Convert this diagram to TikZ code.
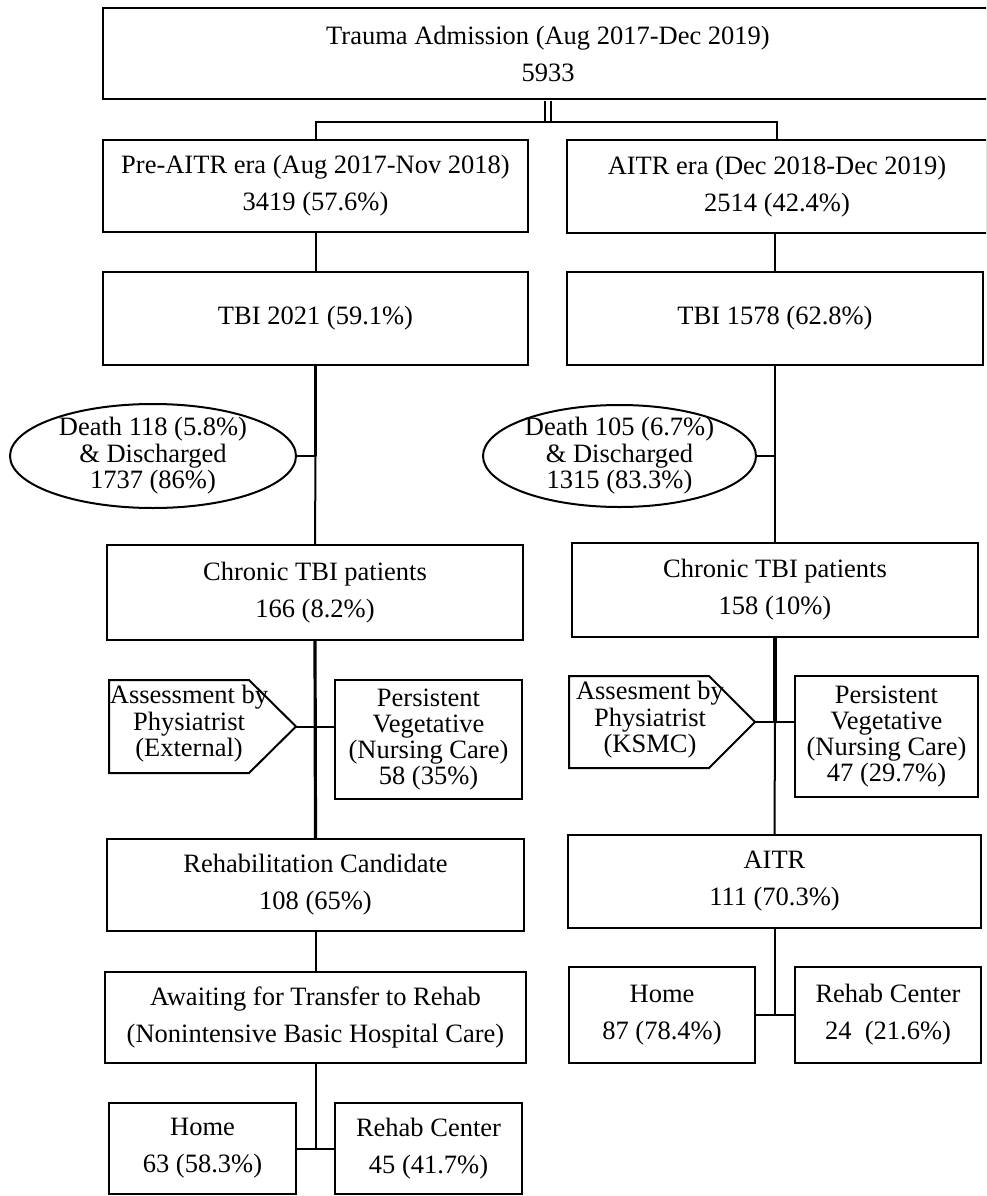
\documentclass[tikz,border=0pt]{standalone}
\usepackage{fontspec}
\setmainfont{Liberation Serif}
\usetikzlibrary{shapes.geometric}

\begin{document}
\begin{tikzpicture}[x=1pt,y=-1pt]
\tikzstyle{boite} = [draw,rectangle,line width=2pt,align=center,inner sep=0pt,font=\fontsize{26.5}{37}\selectfont];
\tikzstyle{serre} = [align=center,inner sep=0pt,font=\fontsize{26.5}{26.5}\selectfont];
\tikzstyle{bulle} = [draw,ellipse,line width=2pt,inner sep=0pt];
\tikzstyle{trait} = [line width=2pt];
\tikzstyle{epais} = [line width=3.2pt];

\useasboundingbox (0,0) rectangle (986,1196);
\clip (0,0) rectangle (986,1196);

\node[boite,minimum width=890pt,minimum height=91pt] (adm) at (548,53.5) {Trauma Admission (Aug 2017-Dec 2019)\\5933};
\node[boite,minimum width=425pt,minimum height=92pt] (pre) at (315.5,186) {Pre-AITR era (Aug 2017-Nov 2018)\\3419 (57.6\%)};
\node[boite,minimum width=420pt,minimum height=93pt] (era) at (777,186.5) {AITR era (Dec 2018-Dec 2019)\\2514 (42.4\%)};

\coordinate (j0) at (548,122);
\draw[double,line width=1.8pt,double distance=3.6pt,shorten <=1pt,shorten >=1pt] (adm.south) -- (j0);
\draw[trait] (pre.north) |- (j0) -| (era.north);

\node[boite,minimum width=425pt,minimum height=93pt] (tbiG) at (315.5,318.5) {TBI 2021 (59.1\%)};
\node[boite,minimum width=416pt,minimum height=93pt] (tbiD) at (775,318.5) {TBI 1578 (62.8\%)};
\draw[trait] (pre) -- (tbiG);
\draw[trait] (era.south -| tbiD.north) -- (tbiD.north);

% deces et sorties
\node[bulle,minimum width=286pt,minimum height=104pt] (mortG) at (153,456) {};
\node[serre] (mortGtxt) at (mortG) {Death 118 (5.8\%)\\\& Discharged\\1737 (86\%)};
\node[bulle,minimum width=273pt,minimum height=102pt] (mortD) at (619.5,456) {};
\node[serre] (mortDtxt) at (mortD) {Death 105 (6.7\%)\\\& Discharged\\1315 (83.3\%)};

\node[boite,minimum width=416pt,minimum height=95pt] (chrG) at (315,592.5) {Chronic TBI patients\\166 (8.2\%)};
\node[boite,minimum width=406pt,minimum height=94pt] (chrD) at (775,590) {Chronic TBI patients\\158 (10\%)};

\coordinate (jG) at (tbiG.south |- mortG.east);
\coordinate (jD) at (tbiD.south |- mortD.east);
\draw[epais] (tbiG.south) -- (jG);
\draw[trait] (jG) -- (chrG.north);
\draw[trait] (mortG.east) -- (jG);
\draw[trait] (tbiD.south) -- (chrD.north);
\draw[trait] (mortD.east) -- (jD);

% evaluation
\draw[trait] (109,680) -- (249,680) -- (296,726.5) -- (249,773) -- (109,773) -- cycle;
\coordinate (pointeG) at (296,726.5);
\node[serre] (asmG) at (189,724) {Assessment by\\Physiatrist\\(External)};
\node[boite,font=\fontsize{26.5}{25.7}\selectfont,minimum width=187pt,minimum height=119pt] (persG) at (428.5,739.5) {Persistent\\Vegetative\\(Nursing Care)\\58 (35\%)};

\draw[trait] (569,676) -- (709,676) -- (755,722) -- (709,768) -- (569,768) -- cycle;
\coordinate (pointeD) at (755,722);
\node[serre] (asmD) at (650,720) {Assesment by\\Physiatrist\\(KSMC)};
\node[boite,font=\fontsize{26.5}{25.7}\selectfont,minimum width=183pt,minimum height=121pt] (persD) at (886.5,736.5) {Persistent\\Vegetative\\(Nursing Care)\\47 (29.7\%)};

\node[boite,minimum width=417pt,minimum height=92pt] (rehG) at (315.5,885) {Rehabilitation Candidate\\108 (65\%)};
\node[boite,minimum width=413pt,minimum height=93pt] (aitr) at (774.5,881.5) {AITR\\111 (70.3\%)};

\coordinate (kD) at (chrD.south |- pointeD);
\draw[epais] (chrG.south) -- (rehG.north);
\draw[trait] (pointeG) -- (pointeG -| persG.west);
\draw[epais] (chrD.south) -- (kD);
\draw[trait] (kD) -- (aitr.north);
\draw[trait] (pointeD) -- (pointeD -| persD.west);

% sorties finales
\node[boite,minimum width=421pt,minimum height=91pt] (attG) at (315.5,1017.5) {Awaiting for Transfer to Rehab\\(Nonintensive Basic Hospital Care)};
\draw[trait] (rehG) -- (attG);
\node[boite,minimum width=187pt,minimum height=91pt] (homeG) at (202.5,1148.5) {Home\\63 (58.3\%)};
\node[boite,minimum width=187pt,minimum height=91pt] (rcG) at (428.5,1148.5) {Rehab Center\\45 (41.7\%)};
\draw[trait] (homeG.east) -- (rcG.west);
\draw[trait] (attG.south) -- (attG.south |- homeG.east);

\node[boite,minimum width=186pt,minimum height=96pt] (homeD) at (662,1015) {Home\\87 (78.4\%)};
\node[boite,minimum width=186pt,minimum height=96pt] (rcD) at (888,1015) {Rehab Center\\24~ (21.6\%)};
\draw[trait] (homeD.east) -- (rcD.west);
\draw[trait] (aitr.south) -- (aitr.south |- homeD.east);

\end{tikzpicture}
\end{document}
